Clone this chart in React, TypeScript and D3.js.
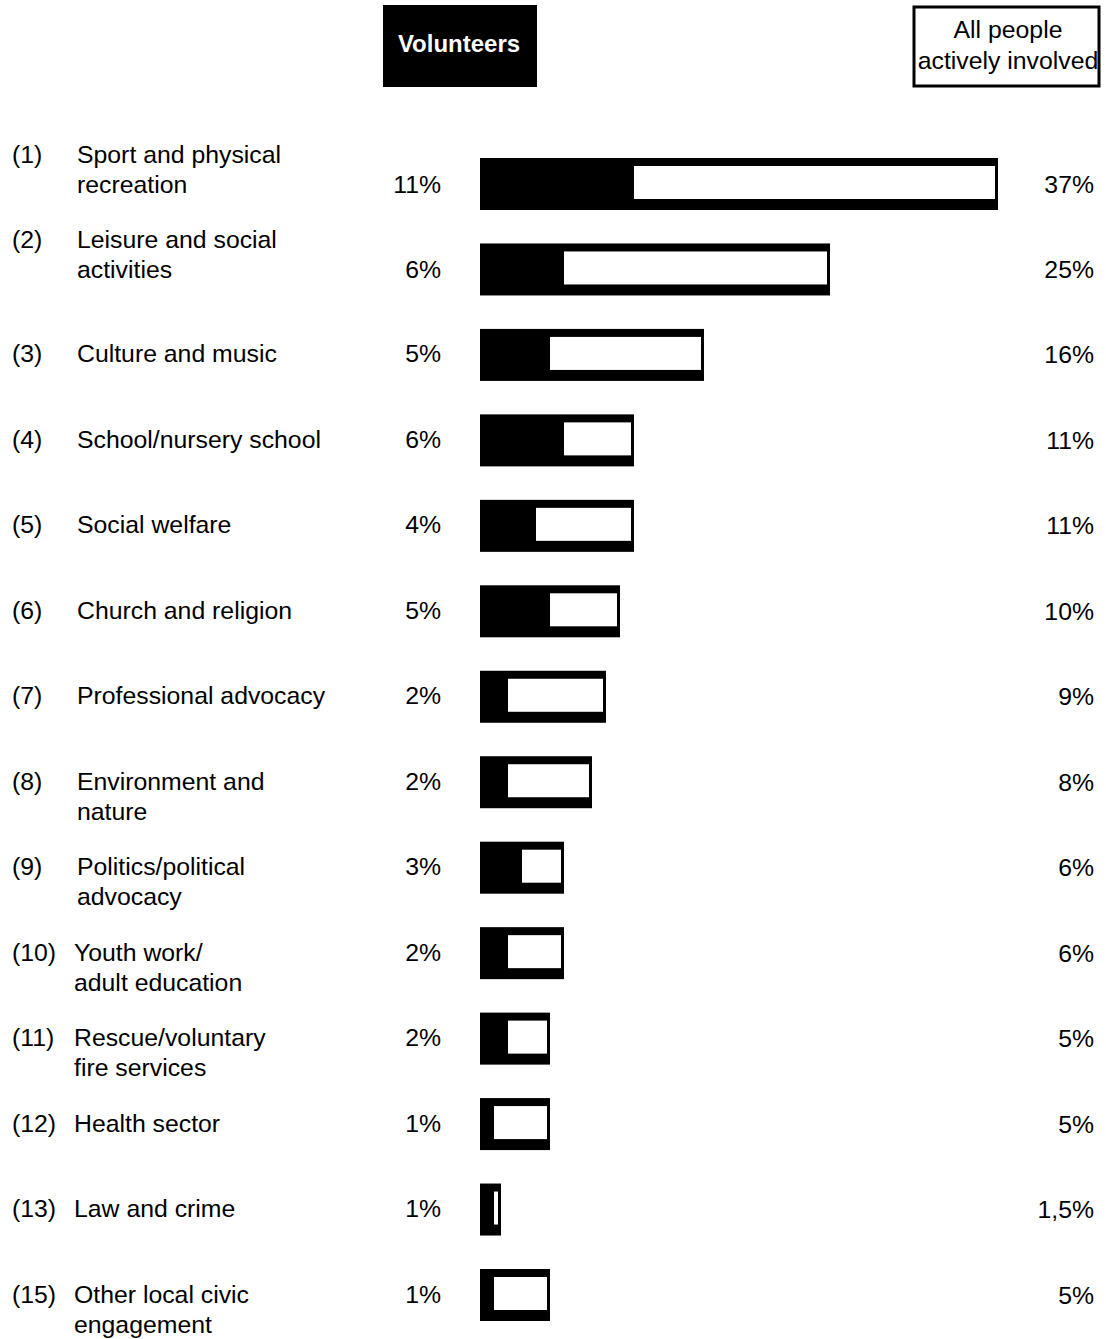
import React from "react";
import * as d3 from "d3";

const codes = ["(1)", "(2)", "(3)", "(4)", "(5)", "(6)", "(7)", "(8)", "(9)", "(10)", "(11)", "(12)", "(13)", "(15)"];
const labels = [
  ["Sport and physical", "recreation"],
  ["Leisure and social", "activities"],
  ["Culture and music"],
  ["School/nursery school"],
  ["Social welfare"],
  ["Church and religion"],
  ["Professional advocacy"],
  ["Environment and", "nature"],
  ["Politics/political", "advocacy"],
  ["Youth work/", "adult education"],
  ["Rescue/voluntary", "fire services"],
  ["Health sector"],
  ["Law and crime"],
  ["Other local civic", "engagement"],
];
const volunteers = [11, 6, 5, 6, 4, 5, 2, 2, 3, 2, 2, 1, 1, 1];
const allInvolved = [37, 25, 16, 11, 11, 10, 9, 8, 6, 6, 5, 5, 1.5, 5];
const legendVolunteers = "Volunteers";
const legendAll = ["All people", "actively involved"];

const W = 1106;
const H = 1339;
const font = "'Liberation Sans', Arial, sans-serif";
const FS = 24.8;

export default function App() {
  const y = d3.scalePoint<string>().domain(codes).range([184, 1295]);
  const x = d3.scaleLinear().domain([0, 37]).range([480, 998]);
  const fmt = (v: number) => String(v).replace(".", ",") + "%";

  return (
    <div style={{ position: "absolute", left: 0, top: 0 }}>
      <svg width={W} height={H} style={{ display: "block", background: "#fff" }} fontFamily={font}>
        <rect x={0} y={0} width={W} height={H} fill="#fff" />
        {/* legend */}
        <rect x={383} y={5} width={154} height={82} fill="#000" />
        <text x={459} y={46} textAnchor="middle" dominantBaseline="middle" fill="#fff" fontSize={24} fontWeight="bold">
          {legendVolunteers}
        </text>
        <rect x={914} y={7} width={185} height={79} fill="#fff" stroke="#000" strokeWidth={3} />
        {legendAll.map((t, i) => (
          <text key={i} x={1008} y={31 + i * 31} textAnchor="middle" dominantBaseline="middle" fontSize={FS} fill="#000">
            {t}
          </text>
        ))}
        {codes.map((c, i) => {
          const cy = y(c) as number;
          const lineStart = i < 2 ? cy - 28 : cy + 1;
          const lx = i < 9 ? 77 : 74;
          const valY = i < 2 ? cy + 2 : lineStart;
          const xv = x(volunteers[i]);
          const xa = x(allInvolved[i]);
          return (
            <g key={c}>
              <text x={12} y={lineStart} dominantBaseline="middle" fontSize={FS} fill="#000">{c}</text>
              {labels[i].map((t, j) => (
                <text key={j} x={lx} y={lineStart + j * 30} dominantBaseline="middle" fontSize={FS} fill="#000">{t}</text>
              ))}
              <text x={441} y={valY} textAnchor="end" dominantBaseline="middle" fontSize={FS} fill="#000">{fmt(volunteers[i])}</text>
              <text x={1094} y={cy + 2} textAnchor="end" dominantBaseline="middle" fontSize={FS} fill="#000">{fmt(allInvolved[i])}</text>
              <rect x={x(0)} y={cy - 26} width={xa - x(0)} height={52} fill="#000" />
              <rect x={xv} y={cy - 18} width={Math.max(0, xa - xv - 3)} height={33} fill="#fff" />
            </g>
          );
        })}
      </svg>
    </div>
  );
}
